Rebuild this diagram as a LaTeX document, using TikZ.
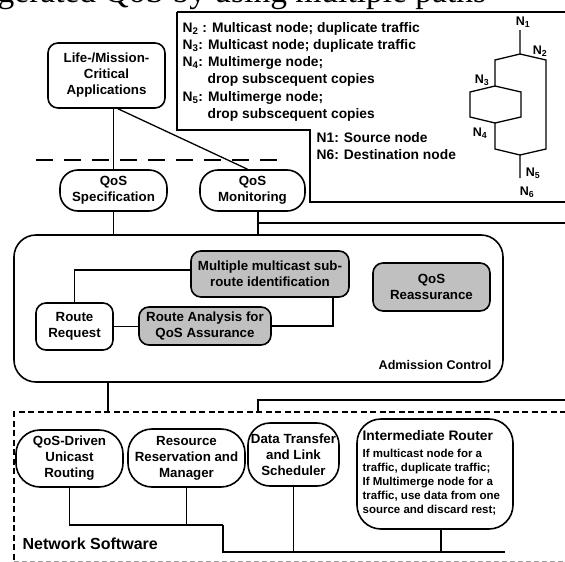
\documentclass[tikz,border=0pt]{standalone}
\usepackage{fontspec}
\setmainfont{Liberation Sans}
\newfontfamily\headfont{Liberation Serif}
\usetikzlibrary{calc}
\definecolor{boxGray}{RGB}{192,192,192}

\begin{document}
\begin{tikzpicture}[x=1pt, y=-1pt, line width=1.3pt,
    box/.style={draw, line width=1.6pt, rounded corners=10pt, align=center, inner sep=0pt,
        font=\bfseries\fontsize{13.3}{16}\selectfont},
    grayBox/.style={box, fill=boxGray},
    pill/.style={box, rounded corners=18pt},
    legendText/.style={anchor=base west, inner sep=0pt, font=\bfseries\fontsize{13.8}{17}\selectfont},
    routerText/.style={anchor=base west, inner sep=0pt, font=\bfseries\fontsize{11.5}{14}\selectfont},
    tag/.style={inner sep=0pt, font=\bfseries\fontsize{12.5}{12.5}\selectfont}]
    \useasboundingbox (0,0) rectangle (565,562);

    % clipped heading of the slide
    \node[anchor=base west, inner sep=0pt, font=\headfont\fontsize{33.5}{34}\selectfont] (heading) at (-3,2.5)
        {gerated QoS by using multiple paths};

    % legend frame and texts
    \draw[line width=2.2pt] (566,12) -- (177,12);
    \draw (177,12) -- (177,130) -- (310,130) -- (310,202) -- (566,202);
    \foreach \yy/\txt [count=\i] in {32/{N\textsubscript{2} : Multicast node; duplicate traffic},
                                     49/{N\textsubscript{3}: Multicast node; duplicate traffic},
                                     66/{N\textsubscript{4}: Multimerge node;},
                                     101/{N\textsubscript{5}: Multimerge node;}} {
        \node[legendText] (leg\i) at (182,\yy) {\txt};
    }
    \node[legendText] (drop1) at (207,83) {drop subscequent copies};
    \node[legendText] (drop2) at (207,118) {drop subscequent copies};
    \node[legendText] (src) at (316,142) {N1: Source node};
    \node[legendText] (dst) at (316,159) {N6: Destination node};

    % multipath graph
    \coordinate (top) at (520,30);
    \coordinate (n2) at (520,54);
    \coordinate (n3) at (495,86);
    \coordinate (n4) at (495,123);
    \coordinate (n5) at (520,155);
    \coordinate (bot) at (520,178);
    \draw (top) -- (n2) -- (495,60) -- (n3);
    \draw (n2) -- (546,60) -- (546,149) -- (n5);
    \draw (n3) -- (470,92) -- (470,117) -- (n4);
    \draw (n3) -- (521,92) -- (521,117) -- (n4);
    \draw (n4) -- (495,149) -- (n5) -- (bot);
    \node[tag] (t1) at (523,22) {N\textsubscript{1}};
    \node[tag] (t2) at (540,51) {N\textsubscript{2}};
    \node[tag] (t3) at (482,80) {N\textsubscript{3}};
    \node[tag] (t4) at (480,133) {N\textsubscript{4}};
    \node[tag] (t5) at (533,173) {N\textsubscript{5}};
    \node[tag] (t6) at (527,192) {N\textsubscript{6}};

    % applications and QoS
    \node[box, minimum width=117, minimum height=65] (app) at (106.5,75.5) {Life-/Mission-\\Critical\\Applications};
    \node[pill, minimum width=107, minimum height=41] (spec) at (113.5,190.5) {QoS\\Specification};
    \node[pill, minimum width=105, minimum height=41] (mon) at (252.5,190.5) {QoS\\Monitoring};
    \coordinate (dashL) at (36,160);
    \coordinate (dashR) at (285,160);
    \draw[dash pattern=on 17pt off 11pt] (dashL) -- (dashR);
    \draw (app.south -| spec.north) -- (spec.north);
    \draw ([xshift=11.5]app.south) -- ([xshift=-5]mon.north);

    % admission control
    \node[box, rounded corners=22pt, minimum width=489, minimum height=147] (adm) at (258.5,308.5) {};
    \node[grayBox, minimum width=158, minimum height=46] (mmsr) at (270,274) {Multiple multicast sub-\\route identification};
    \node[grayBox, minimum width=117, minimum height=48] (reass) at (431.5,287) {QoS\\Reassurance};
    \node[box, minimum width=77, minimum height=47] (rreq) at (74.5,326.5) {Route\\Request};
    \node[grayBox, minimum width=132, minimum height=38] (rana) at (205,326) {Route Analysis for\\QoS Assurance};
    \node[anchor=base east, inner sep=0pt, font=\bfseries\fontsize{12.6}{14}\selectfont] (admLabel) at (492,369) {Admission Control};
    \draw (rreq.north) |- ([yshift=4pt]mmsr.west);
    \draw[line width=1.8pt] (rreq.east) -- (rreq.east -| rana.west);
    \draw (rana.east) -| ([xshift=63]mmsr.south);
    \draw (spec.south) -- (spec.south |- adm.north);
    \coordinate (monSide) at (566,223);
    \draw ([xshift=5.5]mon.south) -- ([xshift=5.5]mon.south |- adm.north);
    \draw[line width=2pt] ([xshift=5.5]mon.south |- monSide) -- (monSide);

    % network software
    \coordinate (netNW) at (14,412);
    \coordinate (netNE) at (566,412);
    \coordinate (netSW) at (14,561.5);
    \coordinate (netSE) at (566,561.5);
    \draw[dash pattern=on 6pt off 3.5pt] (netNE) -- (netNW) -- (netSW);
    \draw[black!40, line width=1pt, dash pattern=on 5pt off 3pt] (netSW) -- (netSE);
    \draw ([xshift=-150.5]adm.south) -- ([xshift=-150.5]adm.south |- netNW);
    \coordinate (netSide) at (566,400);
    \draw ([xshift=5.5]mon.south |- netNW) |- (netSide);

    \node[pill, rounded corners=24pt, minimum width=107, minimum height=57] (qdur) at (69.5,458.5) {QoS-Driven\\Unicast\\Routing};
    \node[pill, rounded corners=24pt, minimum width=117, minimum height=58] (rrm) at (186.5,458) {Resource\\Reservation and\\Manager};
    \node[pill, rounded corners=22pt, minimum width=91, minimum height=63] (dtls) at (293.5,454.5) {Data Transfer\\and Link\\Scheduler};
    \node[box, rounded corners=24pt, minimum width=156, minimum height=110] (ir) at (435,474) {};
    \node[anchor=base west, inner sep=0pt, font=\bfseries\fontsize{13.8}{16}\selectfont] (irTitle) at (362,440) {Intermediate Router};
    \foreach \yy/\txt [count=\i] in {457/{If multicast node for a}, 471/{traffic, duplicate traffic;},
                                     485/{If Multimerge node for a}, 499/{traffic, use data from one},
                                     513/{source and discard rest;}} {
        \node[routerText] (ir\i) at (362,\yy) {\txt};
    }
    \node[anchor=base west, inner sep=0pt, font=\bfseries\fontsize{16}{18}\selectfont] (netLabel) at (22,549) {Network Software};

    \coordinate (busA) at (223,525);
    \coordinate (busE) at (505,552);
    \draw[line width=1.8pt] (qdur.south) |- (busA);
    \draw (busA) |- (busE);
    \draw (rrm.south) -- (rrm.south |- busA);
    \draw (dtls.south) -- (dtls.south |- busE);
    \draw ([xshift=6]ir.south) -- ([xshift=6]ir.south |- busE);
\end{tikzpicture}
\end{document}
